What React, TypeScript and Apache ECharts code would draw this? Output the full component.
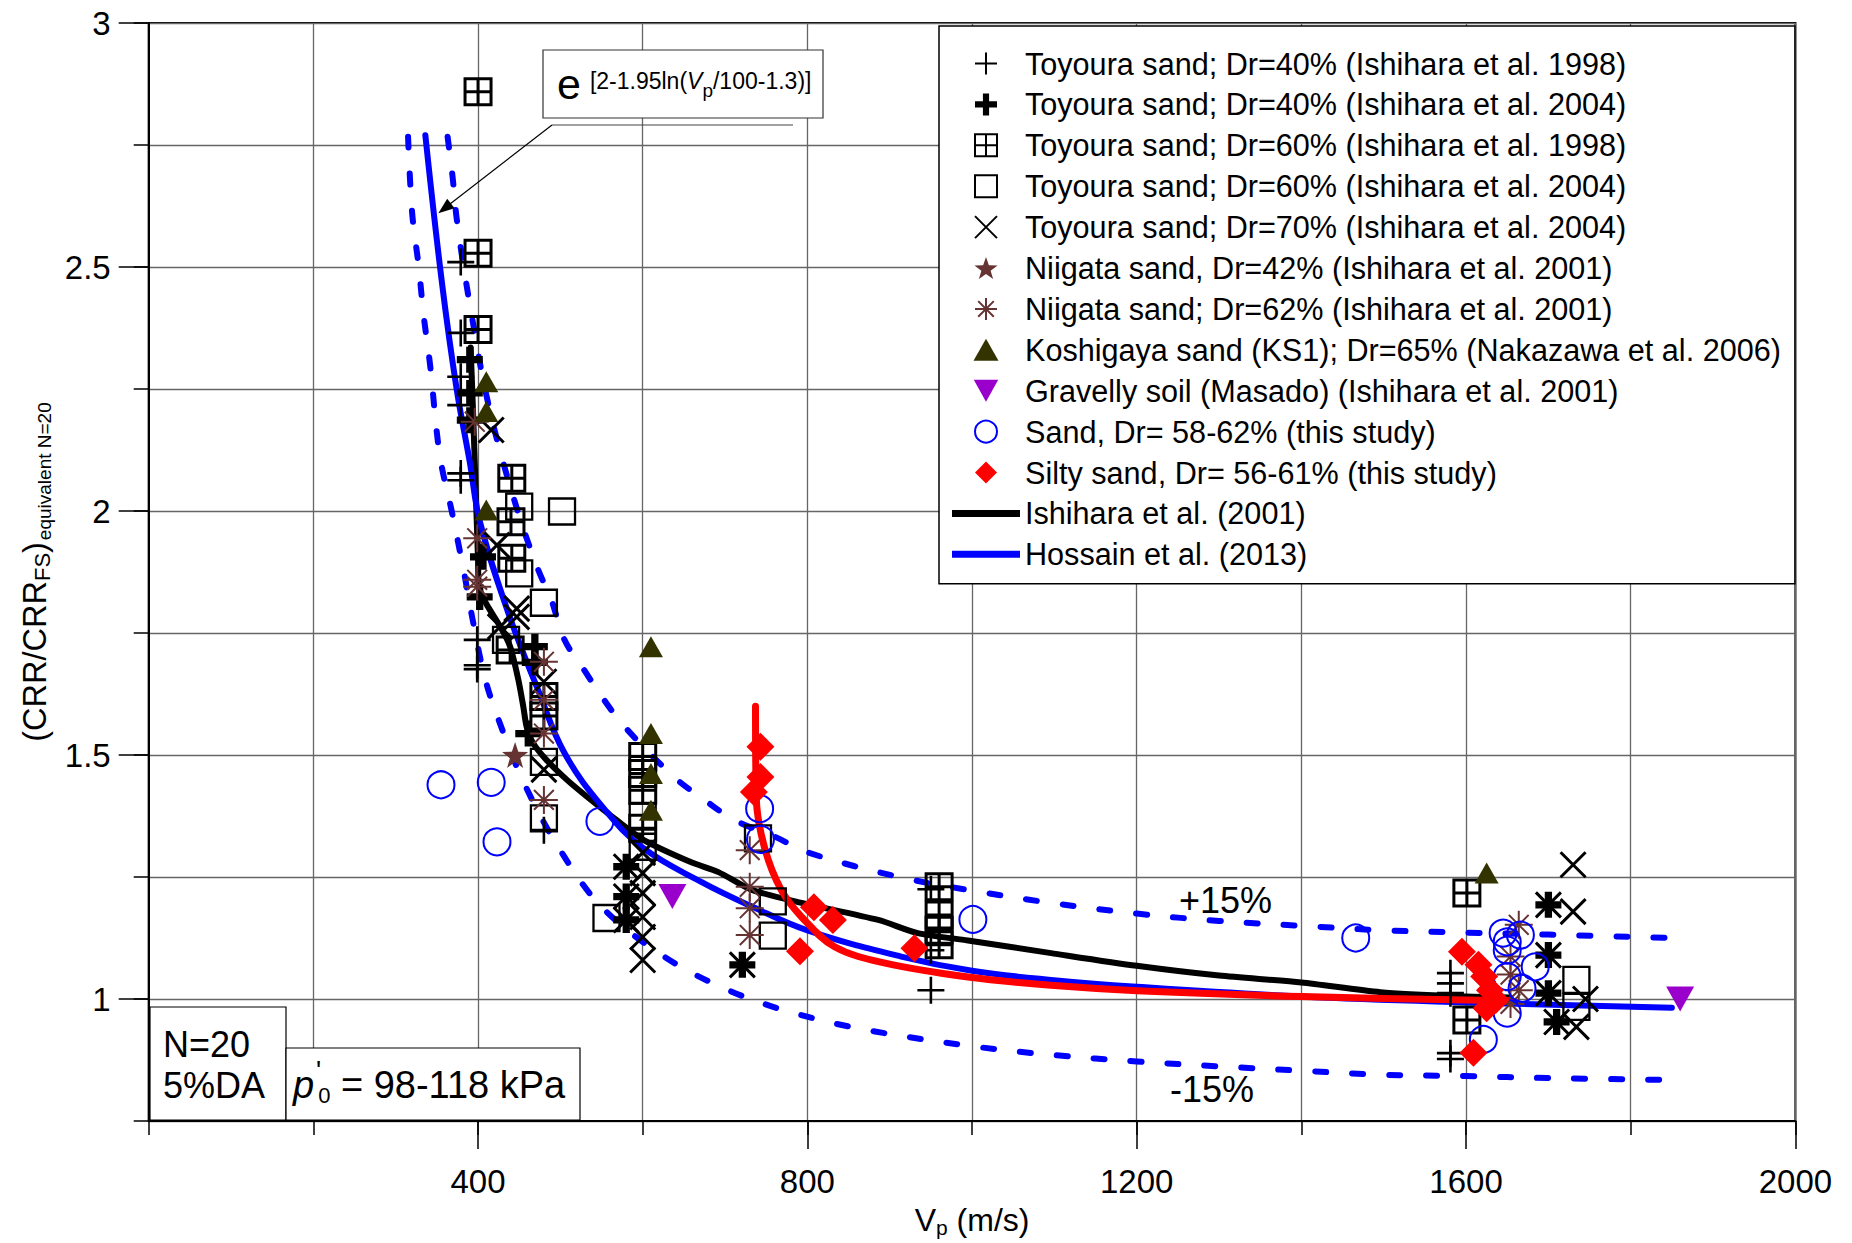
import React, { useEffect, useRef } from 'react';
import * as echarts from 'echarts';

type Pt = [number, number];

const FONT = '"Liberation Sans", Arial, Helvetica, sans-serif';

// ---- tick labels ----
const xMajorTicks = [400, 800, 1200, 1600, 2000];
const yMajorTicks = [1, 1.5, 2, 2.5, 3];

// ---- curves ----
const hossain2013: Pt[] = [
  [336, 2.77], [356, 2.47], [374, 2.25], [390, 2.1], [402, 1.98], [437, 1.79], [473, 1.633],
  [505, 1.504], [553, 1.39], [600, 1.31], [671, 1.24], [732, 1.19], [801, 1.14], [914, 1.087],
  [1000, 1.058], [1096, 1.039], [1200, 1.025], [1400, 1.005], [1600, 0.993], [1850, 0.982],
];
const ishihara2001: Pt[] = [
  [391, 2.335], [394, 2.2], [397, 2.05], [400, 1.9], [401, 1.845], [410, 1.81], [427, 1.763],
  [439, 1.722], [449, 1.654], [455, 1.599], [459, 1.558], [467, 1.524], [483, 1.49], [508, 1.449],
  [532, 1.415], [568, 1.367], [602, 1.325], [659, 1.28], [692, 1.26], [732, 1.224], [793, 1.197],
  [886, 1.162], [934, 1.135], [995, 1.12], [1096, 1.094], [1200, 1.068], [1300, 1.048],
  [1400, 1.034], [1496, 1.014], [1600, 1.005], [1654, 1.003],
];
const siltyFit: Pt[] = [
  [737, 1.6], [738, 1.41], [748, 1.31], [768, 1.224], [793, 1.168], [833, 1.107], [893, 1.074],
  [995, 1.045], [1096, 1.028], [1200, 1.017], [1400, 1.005], [1600, 0.998], [1654, 0.997],
];
const upper15: Pt[] = [
  [363, 2.767], [369, 2.686], [374, 2.6], [385, 2.474], [396, 2.365], [407, 2.262], [424, 2.14],
  [450, 1.99], [473, 1.88], [489, 1.818], [505, 1.736], [529, 1.674], [553, 1.613], [578, 1.558],
  [638, 1.455], [675, 1.408], [711, 1.367], [760, 1.333], [801, 1.3], [914, 1.249], [1015, 1.218],
  [1096, 1.197], [1200, 1.175], [1300, 1.16], [1400, 1.15], [1496, 1.141], [1600, 1.136],
  [1700, 1.132], [1852, 1.125],
];
const lower15: Pt[] = [
  [315, 2.767], [320, 2.61], [328, 2.5], [334, 2.4], [342, 2.296], [350, 2.16], [356, 2.09],
  [368, 2.0], [384, 1.865], [392, 1.79], [408, 1.66], [425, 1.572], [456, 1.442], [498, 1.31],
  [550, 1.189], [626, 1.087], [704, 1.018], [784, 0.971], [874, 0.936], [1006, 0.902],
  [1100, 0.885], [1200, 0.872], [1300, 0.862], [1400, 0.853], [1496, 0.845], [1600, 0.842],
  [1700, 0.838], [1852, 0.834],
];

// ---- scatter data ----
const toyoura40_1998: Pt[] = [
  [379, 2.51], [379, 2.365], [379, 2.275], [379, 2.217], [379, 2.077], [379, 2.063], [399, 1.736],
  [399, 1.684], [399, 1.676], [480, 1.346], [950, 1.225], [950, 1.1], [950, 1.018], [1581, 1.053],
  [1581, 1.032], [1581, 1.012], [1581, 0.889], [1581, 0.877],
];
const toyoura40_2004: Pt[] = [
  [390, 2.31], [390, 2.242], [390, 2.186], [406, 1.906], [402, 1.824], [469, 1.722], [469, 1.69],
  [461, 1.544], [580, 1.271], [580, 1.21], [580, 1.162], [721, 1.07], [1700, 1.193], [1700, 1.09],
  [1700, 1.012], [1710, 0.953],
];
const toyoura60_1998: Pt[] = [
  [400, 2.859], [400, 2.528], [400, 2.372], [441, 2.067], [440, 1.978], [441, 1.903], [439, 1.715],
  [480, 1.62], [480, 1.58], [600, 1.497], [600, 1.462], [600, 1.428], [600, 1.35], [960, 1.23],
  [960, 1.172], [960, 1.141], [960, 1.111], [1601, 1.217], [1601, 0.957],
];
const toyoura60_2004: Pt[] = [
  [450, 2.009], [502, 1.999], [450, 1.872], [480, 1.812], [434, 1.736], [480, 1.486], [480, 1.37],
  [556, 1.166], [600, 1.374], [600, 1.312], [740, 1.329], [758, 1.2], [758, 1.13], [1734, 1.039],
  [1734, 0.984],
];
const toyoura70_2004: Pt[] = [
  [416, 2.166], [423, 1.93], [447, 1.8], [447, 1.783], [427, 1.763], [480, 1.65], [480, 1.47],
  [600, 1.3], [600, 1.258], [600, 1.217], [600, 1.168], [600, 1.127], [600, 1.08], [580, 1.271],
  [580, 1.21], [580, 1.162], [721, 1.07], [1700, 1.193], [1700, 1.09], [1700, 1.012], [1710, 0.953],
  [1730, 1.275], [1730, 1.179], [1734, 0.943], [1745, 1.0],
];
const niigata42: Pt[] = [[445, 1.5]];
const niigata62: Pt[] = [
  [396, 2.183], [399, 1.944], [399, 1.859], [399, 1.845], [480, 1.691], [480, 1.613], [480, 1.544],
  [480, 1.408], [730, 1.305], [730, 1.23], [730, 1.186], [730, 1.131], [1664, 1.152], [1654, 1.087],
  [1654, 1.05], [1664, 1.018], [1654, 0.99],
];
const koshigaya: Pt[] = [
  [410, 2.265], [410, 2.204], [410, 2.002], [610, 1.722], [610, 1.544], [610, 1.462], [610, 1.387],
  [1625, 1.258],
];
const masado: Pt[] = [[636, 1.21], [1860, 1.0]];
const sandThisStudy: Pt[] = [
  [355, 1.439], [416, 1.444], [423, 1.322], [548, 1.364], [742, 1.39], [743, 1.327], [1001, 1.163],
  [1466, 1.125], [1645, 1.135], [1666, 1.131], [1650, 1.117], [1650, 1.1], [1684, 1.066],
  [1650, 1.046], [1668, 1.022], [1650, 0.971], [1621, 0.917],
];
const siltySand: Pt[] = [
  [743, 1.517], [743, 1.455], [735, 1.424], [808, 1.188], [831, 1.162], [791, 1.098], [930, 1.104],
  [1595, 1.097], [1615, 1.07], [1622, 1.046], [1629, 1.018], [1636, 0.998], [1625, 0.981],
  [1609, 0.89],
];

// ---- names ----
const N_T40_98 = 'Toyoura sand; Dr=40% (Ishihara et al. 1998)';
const N_T40_04 = 'Toyoura sand; Dr=40% (Ishihara et al. 2004)';
const N_T60_98 = 'Toyoura sand; Dr=60% (Ishihara et al. 1998)';
const N_T60_04 = 'Toyoura sand; Dr=60% (Ishihara et al. 2004)';
const N_T70_04 = 'Toyoura sand; Dr=70% (Ishihara et al. 2004)';
const N_N42 = 'Niigata sand, Dr=42% (Ishihara et al. 2001)';
const N_N62 = 'Niigata sand; Dr=62% (Ishihara et al. 2001)';
const N_KS1 = 'Koshigaya sand (KS1); Dr=65% (Nakazawa et al. 2006)';
const N_MAS = 'Gravelly soil (Masado) (Ishihara et al. 2001)';
const N_SAND = 'Sand, Dr= 58-62% (this study)';
const N_SILTY = 'Silty sand, Dr= 56-61% (this study)';
const N_ISH = 'Ishihara et al. (2001)';
const N_HOS = 'Hossain et al. (2013)';

// ---- symbols ----
const SYM_PLUS = 'path://M0,5L10,5M5,0L5,10';
const SYM_BOLDPLUS = 'path://M3.6,0L6.4,0L6.4,3.6L10,3.6L10,6.4L6.4,6.4L6.4,10L3.6,10L3.6,6.4L0,6.4L0,3.6L3.6,3.6Z';
const SYM_GRIDSQ = 'path://M0,0L10,0L10,10L0,10ZM5,0L5,10M0,5L10,5';
const SYM_SQ = 'path://M0,0L10,0L10,10L0,10Z';
const SYM_X = 'path://M0,0L10,10M10,0L0,10';
const SYM_AST = 'path://M5,0L5,10M0,5L10,5M1.46,1.46L8.54,8.54M8.54,1.46L1.46,8.54';
const SYM_STAR = 'path://M10,0L12.35,6.76L19.51,6.91L13.8,11.24L15.88,18.09L10,14L4.12,18.09L6.2,11.24L0.49,6.91L7.65,6.76Z';
const SYM_TRI = 'path://M5,0L10,8.8L0,8.8Z';
const SYM_INVTRI = 'path://M0,0L10,0L5,9Z';
const SYM_DIAMOND = 'path://M5,0L10,5L5,10L0,5Z';
const LEGEND_LINE = 'path://M0,0L68,0L68,7L0,7Z';

const BROWN = '#663333';

function strokeScatter(name: string, data: Pt[], symbol: string, size: number | number[], color: string, width: number) {
  return {
    type: 'scatter', name, data, symbol, symbolSize: size, z: 5,
    itemStyle: { color: 'rgba(0,0,0,0)', borderColor: color, borderWidth: width, opacity: 1 },
    emphasis: { disabled: true }, silent: true,
  };
}
function fillScatter(name: string, data: Pt[], symbol: string, size: number | number[], color: string) {
  return {
    type: 'scatter', name, data, symbol, symbolSize: size, z: 5,
    itemStyle: { color, borderWidth: 0, opacity: 1 },
    emphasis: { disabled: true }, silent: true,
  };
}
function curve(name: string, data: Pt[], color: string, width: number, dashed: boolean, smooth: number) {
  return {
    type: 'line', name, data, symbol: 'none', showSymbol: false, smooth, z: 3,
    color,
    lineStyle: { color, width, type: dashed ? [11, 26] : 'solid', cap: 'round', join: 'round' },
    itemStyle: { color },
    emphasis: { disabled: true }, silent: true,
  };
}

export default function App() {
  const ref = useRef<HTMLDivElement>(null);
  useEffect(() => {
    document.body.style.margin = '0';
    document.body.style.overflow = 'hidden';
    const chart = echarts.init(ref.current as HTMLDivElement, undefined, { renderer: 'svg' });
    const axisLineStyle = { color: '#000', width: 2 };
    const tickStyle = { color: '#000', width: 1.5 };
    const splitStyle = { color: '#666', width: 1.3 };
    const option: any = {
      animation: false,
      backgroundColor: '#fff',
      textStyle: { fontFamily: FONT },
      grid: {
        left: 148.7, right: 56.6, top: 23, bottom: 122, show: true,
        borderColor: '#000', borderWidth: 2, backgroundColor: 'transparent',
        containLabel: false, outerBoundsMode: 'none',
      },
      legend: {
        orient: 'vertical', left: 939, top: 26,
        padding: [22, 14, 14, 13],
        itemWidth: 68, itemHeight: 22, itemGap: 9.9,
        backgroundColor: '#fff', borderColor: '#000', borderWidth: 1.5, borderRadius: 0,
        selectedMode: false,
        textStyle: { fontSize: 30.6, fontFamily: FONT, color: '#000', lineHeight: 30 },
        data: [
          N_T40_98, N_T40_04, N_T60_98, N_T60_04, N_T70_04, N_N42, N_N62, N_KS1, N_MAS, N_SAND, N_SILTY,
          { name: N_ISH, icon: LEGEND_LINE, itemStyle: { color: '#000' } },
          { name: N_HOS, icon: LEGEND_LINE, itemStyle: { color: '#0000ff' } },
        ],
      },
      xAxis: [
        {
          type: 'value', min: 0, max: 2000, interval: 200, position: 'bottom',
          axisLine: { show: true, onZero: false, lineStyle: axisLineStyle },
          axisTick: { show: true, length: 14, lineStyle: tickStyle },
          axisLabel: { show: false },
          splitLine: { show: true, lineStyle: splitStyle },
          name: '{m|V}{s|p}{m| (m/s)}', nameLocation: 'middle', nameGap: 80,
          nameTextStyle: {
            color: '#000', fontFamily: FONT,
            rich: {
              m: { fontSize: 32, fontFamily: FONT, color: '#000', verticalAlign: 'middle' },
              s: { fontSize: 21, fontFamily: FONT, color: '#000', verticalAlign: 'middle', padding: [16, 0, 0, 0] },
            },
          },
        },
        {
          type: 'value', min: 0, max: 2000, interval: 400, position: 'bottom',
          axisLine: { show: false, onZero: false },
          axisTick: { show: true, length: 28, lineStyle: tickStyle, customValues: xMajorTicks },
          axisLabel: {
            show: true, margin: 44, fontSize: 33, color: '#000', fontFamily: FONT,
            customValues: xMajorTicks,
            formatter: (v: number) => (xMajorTicks.includes(v) ? String(v) : ''),
          },
          splitLine: { show: false },
        },
      ],
      yAxis: [
        {
          type: 'value', min: 0.75, max: 3, interval: 0.25, position: 'left',
          axisLine: { show: true, onZero: false, lineStyle: axisLineStyle },
          axisTick: { show: true, length: 15, lineStyle: tickStyle },
          axisLabel: { show: false },
          splitLine: { show: true, lineStyle: splitStyle },
        },
        {
          type: 'value', min: 0.75, max: 3, splitNumber: 5, position: 'left',
          axisLine: { show: false, onZero: false },
          axisTick: { show: true, length: 30, lineStyle: tickStyle, customValues: yMajorTicks },
          axisLabel: {
            show: true, margin: 38, fontSize: 33, color: '#000', fontFamily: FONT,
            customValues: yMajorTicks,
            formatter: (v: number) => (yMajorTicks.some((t) => Math.abs(t - v) < 1e-9) ? String(v) : ''),
          },
          splitLine: { show: false },
          name: '{m|(CRR/CRR}{s|FS}{m|)}{e|equivalent N=20}',
          nameLocation: 'middle', nameRotate: 90, nameGap: 92,
          nameTextStyle: {
            color: '#000', fontFamily: FONT,
            rich: {
              m: { fontSize: 32.5, fontFamily: FONT, color: '#000', verticalAlign: 'middle' },
              s: { fontSize: 22, fontFamily: FONT, color: '#000', verticalAlign: 'middle', padding: [14, 0, 0, 0] },
              e: { fontSize: 19, fontFamily: FONT, color: '#000', verticalAlign: 'middle', padding: [18, 0, 0, 2] },
            },
          },
        },
      ],
      series: [
        curve('+15%', upper15, '#0000ff', 6, true, 0.35),
        curve('-15%', lower15, '#0000ff', 6, true, 0.35),
        curve(N_ISH, ishihara2001, '#000000', 6, false, 0.25),
        curve(N_HOS, hossain2013, '#0000ff', 6, false, 0.4),
        curve('Silty sand fit', siltyFit, '#ff0000', 7, false, 0.35),
        strokeScatter(N_T40_98, toyoura40_1998, SYM_PLUS, 27, '#000', 2.6),
        fillScatter(N_T40_04, toyoura40_2004, SYM_BOLDPLUS, 26, '#000'),
        strokeScatter(N_T60_98, toyoura60_1998, SYM_GRIDSQ, 26, '#000', 3),
        strokeScatter(N_T60_04, toyoura60_2004, SYM_SQ, 26, '#000', 2.3),
        strokeScatter(N_T70_04, toyoura70_2004, SYM_X, 25, '#000', 3),
        fillScatter(N_N42, niigata42, SYM_STAR, 26, BROWN),
        strokeScatter(N_N62, niigata62, SYM_AST, 28, BROWN, 2),
        fillScatter(N_KS1, koshigaya, SYM_TRI, [24, 21], '#333300'),
        fillScatter(N_MAS, masado, SYM_INVTRI, [28, 25], '#9900cc'),
        strokeScatter(N_SAND, sandThisStudy, 'circle', 27, '#0000ff', 2),
        fillScatter(N_SILTY, siltySand, SYM_DIAMOND, 28, '#ff0000'),
      ],
      graphic: [
        // formula annotation
        { type: 'rect', z: 100, shape: { x: 543, y: 50, width: 280, height: 68 }, style: { fill: '#fff', stroke: '#333', lineWidth: 1.2 } },
        { type: 'line', z: 100, shape: { x1: 552, y1: 125, x2: 793, y2: 125 }, style: { stroke: '#444', lineWidth: 1.2 } },
        { type: 'line', z: 100, shape: { x1: 552, y1: 125, x2: 450, y2: 204 }, style: { stroke: '#000', lineWidth: 1.2 } },
        { type: 'polygon', z: 100, shape: { points: [[438.3, 213.3], [454.6, 208.2], [447.2, 198.8]] }, style: { fill: '#000' } },
        {
          type: 'text', z: 101, x: 557, y: 84,
          style: {
            text: '{e|e}{s|[2-1.95ln(}{v|V}{p|p}{s|/100-1.3)]}',
            verticalAlign: 'middle', align: 'left', fontFamily: FONT,
            rich: {
              e: { fontSize: 43, fontFamily: FONT, fill: '#000', verticalAlign: 'middle', padding: [0, 9, 0, 0] },
              s: { fontSize: 23, fontFamily: FONT, fill: '#000', verticalAlign: 'middle', padding: [0, 0, 7, 0] },
              v: { fontSize: 23, fontFamily: FONT, fontStyle: 'italic', fill: '#000', verticalAlign: 'middle', padding: [0, 0, 7, 0] },
              p: { fontSize: 19, fontFamily: FONT, fill: '#000', verticalAlign: 'middle', padding: [12, 0, 0, 0] },
            },
          },
        },
        // bottom-left info boxes
        { type: 'rect', z: 100, shape: { x: 150, y: 1007, width: 136, height: 113 }, style: { fill: '#fff', stroke: '#000', lineWidth: 1.2 } },
        { type: 'rect', z: 100, shape: { x: 286, y: 1048, width: 294, height: 72 }, style: { fill: '#fff', stroke: '#000', lineWidth: 1.2 } },
        { type: 'text', z: 101, x: 163, y: 1044, style: { text: 'N=20', fontSize: 36, fontFamily: FONT, fill: '#000', verticalAlign: 'middle' } },
        { type: 'text', z: 101, x: 163, y: 1085, style: { text: '5%DA', fontSize: 36, fontFamily: FONT, fill: '#000', verticalAlign: 'middle' } },
        {
          type: 'text', z: 101, x: 293, y: 1085,
          style: {
            text: '{pi|p}{z|0}{r| = 98-118 kPa}',
            verticalAlign: 'middle', align: 'left', fontFamily: FONT,
            rich: {
              pi: { fontSize: 38, fontFamily: FONT, fontStyle: 'italic', fill: '#000', verticalAlign: 'middle', padding: [0, 4, 0, 0] },
              z: { fontSize: 22, fontFamily: FONT, fill: '#000', verticalAlign: 'middle', padding: [20, 0, 0, 0] },
              r: { fontSize: 38, fontFamily: FONT, fill: '#000', verticalAlign: 'middle' },
            },
          },
        },
        { type: 'text', z: 101, x: 316, y: 1071, style: { text: "'", fontSize: 27, fontFamily: FONT, fill: '#000', verticalAlign: 'middle' } },
        // band labels
        { type: 'text', z: 101, x: 1179, y: 900, style: { text: '+15%', fontSize: 36, fontFamily: FONT, fill: '#000', verticalAlign: 'middle' } },
        { type: 'text', z: 101, x: 1170, y: 1089, style: { text: '-15%', fontSize: 36, fontFamily: FONT, fill: '#000', verticalAlign: 'middle' } },
      ],
    };
    chart.setOption(option);
    return () => chart.dispose();
  }, []);
  return <div ref={ref} style={{ width: 1852, height: 1243 }} />;
}
